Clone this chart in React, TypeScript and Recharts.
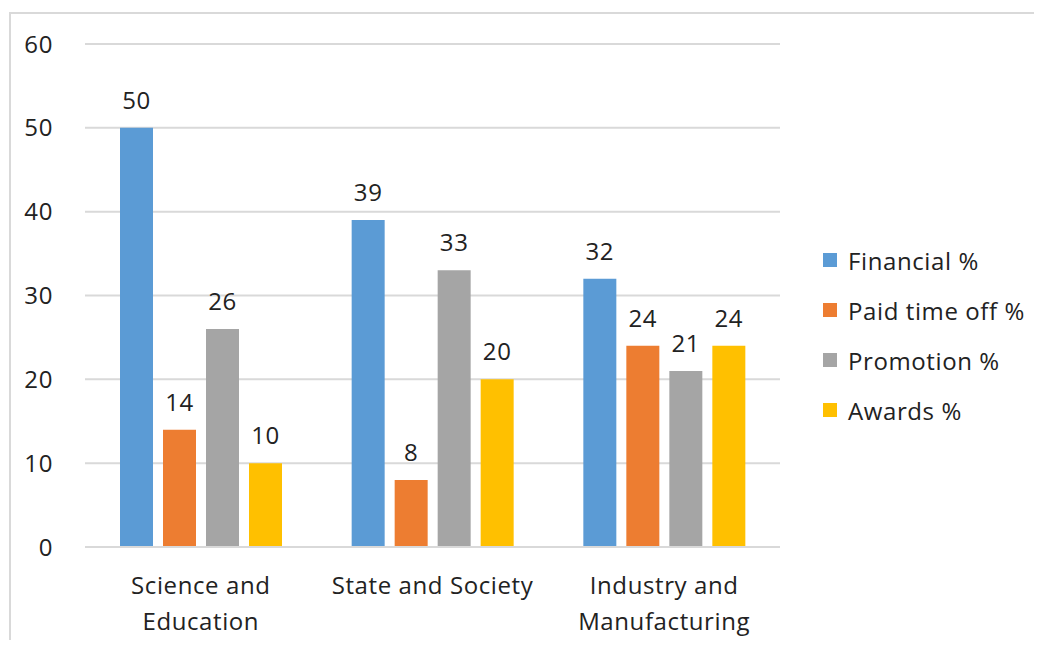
import {
  BarChart,
  Bar,
  XAxis,
  YAxis,
  CartesianGrid,
  Legend,
  LabelList,
} from "recharts";

const categories = ["Science and\nEducation", "State and Society", "Industry and\nManufacturing"];
const financial = [50, 39, 32];
const paidTimeOff = [14, 8, 24];
const promotion = [26, 33, 21];
const awards = [10, 20, 24];
const yTicks = [0, 10, 20, 30, 40, 50, 60];

const seriesList = [
  { key: "financial", name: "Financial %", color: "#5B9BD5" },
  { key: "paid", name: "Paid time off %", color: "#ED7D31" },
  { key: "promotion", name: "Promotion %", color: "#A5A5A5" },
  { key: "awards", name: "Awards %", color: "#FFC000" },
];

const data = categories.map((category, i) => ({
  category,
  financial: financial[i],
  paid: paidTimeOff[i],
  promotion: promotion[i],
  awards: awards[i],
}));

const FONT = "'Open Sans', sans-serif";
const TEXT = "#222";
const GRID = "#d9d9d9";
const FS = 24;
const LS = 0.6;

function CategoryTick({ x, y, payload }: any) {
  const lines = String(payload.value).split("\n");
  return (
    <g>
      {lines.map((line, i) => (
        <text
          key={i}
          x={x}
          y={y + 39 + i * 36}
          textAnchor="middle"
          fill={TEXT}
          fontSize={FS}
          fontFamily={FONT}
          letterSpacing={LS}
        >
          {line}
        </text>
      ))}
    </g>
  );
}

function LegendBox() {
  return (
    <div style={{ fontFamily: FONT, fontSize: FS, color: TEXT, letterSpacing: LS }}>
      {seriesList.map((s) => (
        <div
          key={s.key}
          style={{ display: "flex", alignItems: "center", height: 50, whiteSpace: "nowrap" }}
        >
          <span
            style={{
              display: "inline-block",
              width: 14,
              height: 14,
              background: s.color,
              marginRight: 11,
            }}
          />
          <span>{s.name}</span>
        </div>
      ))}
    </div>
  );
}

export default function App() {
  return (
    <div style={{ position: "relative", width: 1026, height: 632, overflow: "hidden", background: "#fff" }}>
      <div
        style={{
          position: "absolute",
          left: 1,
          top: 4,
          width: 1100,
          height: 700,
          border: `2px solid ${GRID}`,
        }}
      />
      <BarChart
        width={1026}
        height={632}
        data={data}
        margin={{ top: 36, right: 254, bottom: 13, left: 0 }}
        barSize={33}
        barGap={10}
      >
        <CartesianGrid vertical={false} stroke={GRID} strokeWidth={2} />
        <XAxis
          dataKey="category"
          height={80}
          axisLine={{ stroke: GRID, strokeWidth: 2 }}
          tickLine={false}
          interval={0}
          tick={<CategoryTick />}
        />
        <YAxis
          width={77}
          domain={[0, 60]}
          ticks={yTicks}
          axisLine={false}
          tickLine={false}
          tickMargin={26}
          tick={{ fill: TEXT, fontSize: FS, fontFamily: FONT, letterSpacing: LS }}
        />
        <Legend
          layout="horizontal"
          verticalAlign="middle"
          content={<LegendBox />}
          wrapperStyle={{ left: 815, top: 227, width: 211 }}
        />
        {seriesList.map((s) => (
          <Bar key={s.key} dataKey={s.key} name={s.name} fill={s.color} isAnimationActive={false}>
            <LabelList
              dataKey={s.key}
              position="top"
              offset={19}
              fill={TEXT}
              fontSize={FS}
              fontFamily={FONT}
              letterSpacing={LS}
            />
          </Bar>
        ))}
      </BarChart>
    </div>
  );
}
